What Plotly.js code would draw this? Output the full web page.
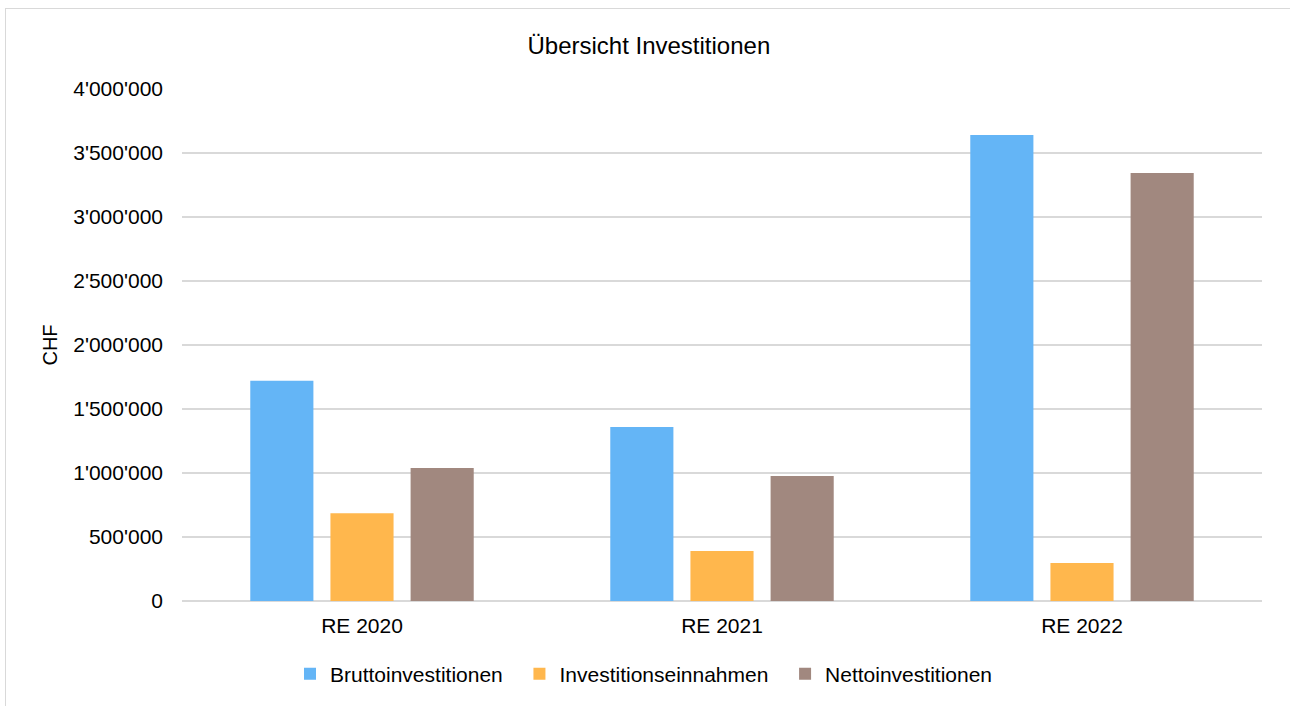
<!DOCTYPE html>
<html>
<head>
<meta charset="utf-8">
<script src="https://cdn.plot.ly/plotly-3.0.1.min.js"></script>
<style>
  html, body { margin: 0; padding: 0; background: #ffffff; overflow: hidden; }
  #chart { width: 1290px; height: 706px; position: absolute; left: 0; top: 0; }
  #frame { position: absolute; left: 5px; top: 8px; width: 1400px; height: 800px;
           border-left: 1.5px solid #d9d9d9; border-top: 1.5px solid #d9d9d9; pointer-events: none; }
</style>
</head>
<body>
<div id="chart"></div>
<div id="frame"></div>
<script>
// ---- data ----
const categories = ["RE 2020", "RE 2021", "RE 2022"];
const brutto = [1721000, 1359000, 3641000];
const einnahmen = [685000, 390000, 297000];
const netto = [1039000, 977000, 3344000];
const seriesNames = ["Bruttoinvestitionen", "Investitionseinnahmen", "Nettoinvestitionen"];
const yTickVals = [0, 500000, 1000000, 1500000, 2000000, 2500000, 3000000, 3500000, 4000000];
const yTickText = ["0", "500'000", "1'000'000", "1'500'000", "2'000'000", "2'500'000", "3'000'000", "3'500'000", "4'000'000"];

const colors = ["#64B5F6", "#FFB74D", "#A1887F"];
const FONT = "Liberation Sans, Arial, sans-serif";
// extra trailing spacing between legend entries (layout only)
const legendPad = ["\u00a0\u00a0", "\u00a0\u00a0", ""];

const traces = [brutto, einnahmen, netto].map((vals, i) => ({
  type: "bar",
  name: seriesNames[i] + legendPad[i],
  x: categories,
  y: vals,
  marker: { color: colors[i], line: { width: 0 } },
  hoverinfo: "x+y+name"
}));

const layout = {
  width: 1290,
  height: 706,
  margin: { l: 182, r: 28, t: 89, b: 105, pad: 0 },
  paper_bgcolor: "rgba(0,0,0,0)",
  plot_bgcolor: "rgba(0,0,0,0)",
  font: { family: FONT, size: 21, color: "#000000" },
  title: {
    text: "Übersicht Investitionen",
    font: { family: FONT, size: 24, color: "#000000" },
    xref: "container", x: 0.503, xanchor: "center",
    yref: "container", y: 1 - 46 / 706, yanchor: "middle"
  },
  barmode: "group",
  bargap: 0.332,
  bargroupgap: 0.2125,
  xaxis: {
    type: "category",
    showgrid: false,
    showline: false,
    ticks: "",
    ticklabelstandoff: 10,
    tickfont: { family: FONT, size: 21, color: "#000000" },
    automargin: false
  },
  yaxis: {
    range: [0, 4000000],
    tickmode: "array",
    tickvals: yTickVals,
    ticktext: yTickText,
    showgrid: true,
    gridcolor: "#d9d9d9",
    gridwidth: 1.3,
    zeroline: true,
    zerolinecolor: "#d9d9d9",
    zerolinewidth: 1.3,
    showline: false,
    ticks: "",
    ticklabelstandoff: 18,
    tickfont: { family: FONT, size: 21, color: "#000000" },
    title: { text: "CHF", font: { family: FONT, size: 20, color: "#000000" }, standoff: 10 },
    automargin: false
  },
  showlegend: true,
  legend: {
    orientation: "h",
    x: 0.1, xanchor: "left",
    y: -0.1426, yanchor: "middle",
    font: { family: FONT, size: 21, color: "#000000" },
    bgcolor: "rgba(0,0,0,0)",
    traceorder: "normal"
  }
};

Plotly.newPlot("chart", traces, layout, { displayModeBar: false, staticPlot: true });
</script>
</body>
</html>
